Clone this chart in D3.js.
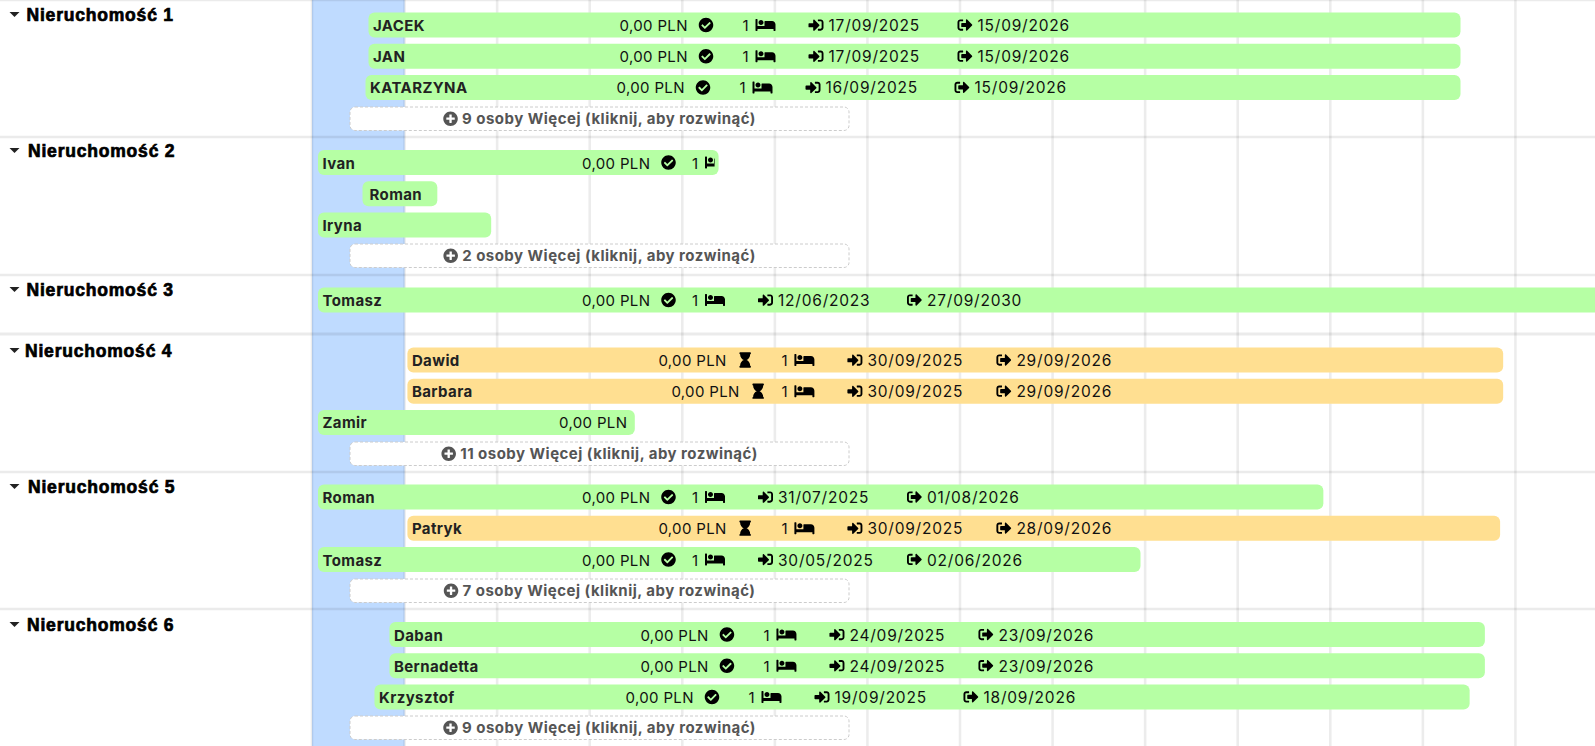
<!DOCTYPE html>
<html lang="pl"><head><meta charset="utf-8">
<script src="https://cdnjs.cloudflare.com/ajax/libs/d3/7.8.5/d3.min.js"></script>
<style>
html,body{margin:0;padding:0;background:#fff;overflow:hidden}
svg{display:block}
.bartext{font-family:Inter,"Open Sans",sans-serif;font-size:15px;fill:#111;letter-spacing:.35px}
.date{font-size:15.5px;letter-spacing:.78px}
.name{font-weight:700;fill:#222;letter-spacing:.4px}
.more{font-family:Inter,"Open Sans",sans-serif;font-size:15px;font-weight:700;fill:#555;letter-spacing:.48px}
.head{font-family:"Liberation Sans",Arial,sans-serif;font-size:17.5px;font-weight:700;fill:#000;stroke:#000;stroke-width:.7px;letter-spacing:.8px}
</style></head><body>
<div id="chart"></div>
<script>
// ---- data ----
const propertyNames = ["Nieruchomość 1","Nieruchomość 2","Nieruchomość 3","Nieruchomość 4","Nieruchomość 5","Nieruchomość 6"];
const hiddenCounts = [9, 2, null, 11, 7, 9];
const tenantProperty = [0,0,0, 1,1,1, 2, 3,3,3, 4,4,4, 5,5,5];
const tenantNames = ["JACEK","JAN","KATARZYNA","Ivan","Roman","Iryna","Tomasz","Dawid","Barbara","Zamir","Roman","Patryk","Tomasz","Daban","Bernadetta","Krzysztof"];
const checkIns = ["17/09/2025","17/09/2025","16/09/2025","01/08/2025","15/09/2025","01/08/2025","12/06/2023","30/09/2025","30/09/2025","01/08/2025","31/07/2025","30/09/2025","30/05/2025","24/09/2025","24/09/2025","19/09/2025"];
const checkOuts = ["15/09/2026","15/09/2026","15/09/2026","12/01/2026","10/10/2025","28/10/2025","27/09/2030","29/09/2026","29/09/2026","15/12/2025","01/08/2026","28/09/2026","02/06/2026","23/09/2026","23/09/2026","18/09/2026"];
const statuses = ["ok","ok","ok","ok","none","none","ok","wait","wait","amount","ok","wait","ok","ok","ok","ok"];
const showDates = [1,1,1,0,0,0,1,1,1,0,1,1,1,1,1,1];
const amountLabel = "0,00 PLN";
const bedCount = "1";
const moreLabel = n => `${n} osoby Więcej (kliknij, aby rozwinąć)`;

// ---- layout ----
const W = 1595, H = 746;
const parse = d3.timeParse("%d/%m/%Y");
const x = d3.scaleTime()
  .domain([parse("17/09/2025"), parse("02/06/2026"), parse("15/09/2026")])
  .range([368.5, 1140.5, 1460.5]);
const grid = d3.scaleLinear().domain([0, 14]).range([312, 1608]);
const rowTops = [0, 137, 275, 335, 472, 609];
const barOffsets = [12.5, 13, 12.5, 12.5, 12.5, 13];
const textNudge = [0, 0.7, 0, 0, 0.7, 0.7];
const headX = [26.5, 28, 26.5, 25, 28, 27];
const headY = [21, 157, 296, 357, 493, 631];
const barMinX = 318, barH = 25, pitch = 31.2;

const ICON = {
 check:{w:512,h:512,d:"M504 256c0 136.967-111.033 248-248 248S8 392.967 8 256 119.033 8 256 8s248 111.033 248 248zM227.314 387.314l184-184c6.248-6.248 6.248-16.379 0-22.627l-22.627-22.627c-6.248-6.249-16.379-6.249-22.628 0L216 308.118l-70.059-70.059c-6.248-6.248-16.379-6.248-22.628 0l-22.627 22.627c-6.248 6.248-6.248 16.379 0 22.627l104 104c6.249 6.249 16.379 6.249 22.628.001z"},
 bed:{w:640,h:512,d:"M176 256c44.11 0 80-35.89 80-80s-35.89-80-80-80-80 35.89-80 80 35.89 80 80 80zm352-128H304c-8.84 0-16 7.16-16 16v144H64V80c0-8.84-7.16-16-16-16H16C7.16 64 0 71.16 0 80v352c0 8.84 7.16 16 16 16h32c8.84 0 16-7.16 16-16v-48h512v48c0 8.84 7.16 16 16 16h32c8.84 0 16-7.16 16-16V240c0-61.86-50.14-112-112-112z"},
 signin:{w:512,h:512,d:"M416 448h-84c-6.6 0-12-5.4-12-12v-40c0-6.6 5.4-12 12-12h84c17.7 0 32-14.3 32-32V160c0-17.7-14.3-32-32-32h-84c-6.6 0-12-5.4-12-12V76c0-6.6 5.4-12 12-12h84c53 0 96 43 96 96v192c0 53-43 96-96 96zm-47-201L201 79c-15-15-41-4.5-41 17v96H24c-13.3 0-24 10.7-24 24v96c0 13.3 10.7 24 24 24h136v96c0 21.5 26 32 41 17l168-168c9.3-9.4 9.3-24.6 0-34z"},
 signout:{w:512,h:512,d:"M497 273L329 441c-15 15-41 4.5-41-17v-96H152c-13.3 0-24-10.7-24-24v-96c0-13.3 10.7-24 24-24h136V88c0-21.4 25.9-32 41-17l168 168c9.3 9.4 9.3 24.6 0 34zM192 436v-40c0-6.6-5.4-12-12-12H96c-17.7 0-32-14.3-32-32V160c0-17.7 14.3-32 32-32h84c6.6 0 12-5.4 12-12V76c0-6.6-5.4-12-12-12H96c-53 0-96 43-96 96v192c0 53 43 96 96 96h84c6.6 0 12-5.4 12-12z"},
 wait:{w:384,h:512,d:"M360 0H24C10.745 0 0 10.745 0 24v16c0 13.255 10.745 24 24 24 0 90.965 51.016 167.734 120.842 192C75.016 280.266 24 357.035 24 448c-13.255 0-24 10.745-24 24v16c0 13.255 10.745 24 24 24h336c13.255 0 24-10.745 24-24v-16c0-13.255-10.745-24-24-24 0-90.965-51.016-167.734-120.842-192C308.984 231.734 360 154.965 360 64c13.255 0 24-10.745 24-24V24c0-13.255-10.745-24-24-24z"},
 plus:{w:512,h:512,d:"M256 8C119 8 8 119 8 256s111 248 248 248 248-111 248-248S393 8 256 8zm144 276c0 6.6-5.4 12-12 12h-92v92c0 6.6-5.4 12-12 12h-56c-6.6 0-12-5.4-12-12v-92h-92c-6.6 0-12-5.4-12-12v-56c0-6.6 5.4-12 12-12h92v-92c0-6.6 5.4-12 12-12h56c6.6 0 12 5.4 12 12v92h92c6.6 0 12 5.4 12 12v56z"}
};
function icon(sel, key, px, cy, size, fill){
  const ic = ICON[key], s = size / ic.w;
  sel.append("path").attr("d", ic.d).attr("fill", fill || "#000")
     .attr("transform", `translate(${px},${cy - ic.h*s/2}) scale(${s})`);
}

const svg = d3.select("#chart").append("svg").attr("width", W).attr("height", H);
svg.append("rect").attr("width", W).attr("height", H).attr("fill", "#fff");
// highlighted first column
svg.append("rect").attr("x", grid(0)).attr("y", 0).attr("width", grid(1)-grid(0)).attr("height", H).attr("fill", "#bfdbff");
// grid
svg.selectAll("line.v").data(d3.range(0, 14)).join("line").attr("class","v")
  .attr("x1", d=>grid(d)).attr("x2", d=>grid(d)).attr("y1", 0).attr("y2", H)
  .attr("stroke", "rgba(0,0,0,.075)").attr("stroke-width", 2.6);
svg.selectAll("line.h").data(rowTops).join("line").attr("class","h")
  .attr("x1", 0).attr("x2", W).attr("y1", d=>d === 335 ? 334 : d).attr("y2", d=>d === 335 ? 334 : d)
  .attr("stroke", "rgba(0,0,0,.08)").attr("stroke-width", d=>d === 335 ? 3 : 2.4);

// property headers
propertyNames.forEach((name, i) => {
  const g = svg.append("g");
  const tx = headX[i], ty = headY[i];
  g.append("path").attr("d", d3.line()([[9.5, ty-9],[19.5, ty-9],[14.5, ty-4]])+"Z").attr("fill", "#222");
  g.append("text").attr("class","head").attr("x", tx).attr("y", ty).text(name);
  if (hiddenCounts[i] !== null) {
    const by = rowTops[i] + 107, mx = 350, mw = 499, mh = 23.5;
    g.append("rect").attr("x", mx).attr("y", by).attr("width", mw).attr("height", mh).attr("rx", 5)
      .attr("fill", "#fff").attr("stroke", "#ccc").attr("stroke-width", 1).attr("stroke-dasharray", "3 2");
    const t = g.append("text").attr("class","more").attr("y", by + 17).text(moreLabel(hiddenCounts[i]));
    const tw = t.node().getComputedTextLength();
    const startX = (mx + mw/2) - (tw + 19) / 2;
    t.attr("x", startX + 19);
    icon(g, "plus", startX, by + 11.7, 15, "#555");
  }
});

// bars
const seen = {};
tenantNames.forEach((name, i) => {
  const p = tenantProperty[i];
  const k = seen[p] = (seen[p] === undefined ? 0 : seen[p] + 1);
  const y = rowTops[p] + barOffsets[p] + k * pitch;
  const raw = x(parse(checkIns[i]));
  const clamped = raw < barMinX;
  const x0 = Math.max(raw, barMinX), x1 = x(parse(checkOuts[i]));
  const color = statuses[i] === "wait" ? "#ffdf91" : "#b6ffa4";
  const id = "clip" + i;
  svg.append("clipPath").attr("id", id).append("rect").attr("x", x0).attr("y", y).attr("width", x1-x0-4).attr("height", barH);
  const g = svg.append("g");
  g.append("rect").attr("x", x0).attr("y", y).attr("width", x1-x0).attr("height", barH).attr("rx", 6).attr("fill", color);
  const c = g.append("g").attr("clip-path", `url(#${id})`);
  const base = y + 18.3 + textNudge[p] * 0.6, mid = y + 12.5;
  const inset = statuses[i] === "none" && !clamped ? 7 : 4.5;
  c.append("text").attr("class","bartext name").attr("x", x0 + inset).attr("y", base).text(name);
  const st = statuses[i];
  if (st === "none") return;
  const late = clamped || name === "Barbara";
  const amtOff = st === "amount" ? 241 : (late ? 264 : 251);
  const icoOff = late ? 343 : 330;
  c.append("text").attr("class","bartext").attr("x", x0 + amtOff).attr("y", base).text(amountLabel);
  if (st === "amount") return;
  if (st === "ok") icon(c, "check", x0 + icoOff, mid, 15);
  else icon(c, "wait", x0 + icoOff + 2, mid, 11.5);
  c.append("text").attr("class","bartext").attr("x", x0 + 374).attr("y", base).text(bedCount);
  icon(c, "bed", x0 + 387, mid, 20);
  if (!showDates[i]) return;
  icon(c, "signin", x0 + 440, mid, 15);
  c.append("text").attr("class","bartext date").attr("x", x0 + 460).attr("y", base).text(checkIns[i]);
  icon(c, "signout", x0 + 589, mid, 15);
  c.append("text").attr("class","bartext date").attr("x", x0 + 609).attr("y", base).text(checkOuts[i]);
});
</script>
</body></html>
